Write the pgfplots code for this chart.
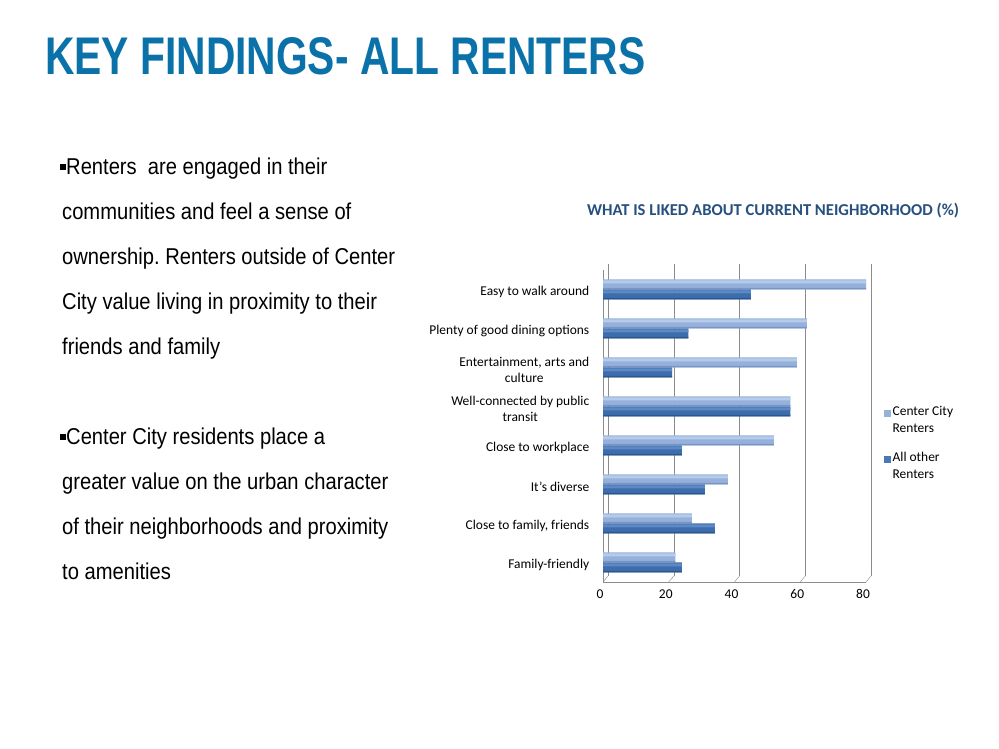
\documentclass[border=0pt]{standalone}
\usepackage{fontspec}
\setmainfont{Carlito}
\newfontfamily\condfont[FakeStretch=0.88]{Liberation Sans}
\usepackage{graphicx}
\usepackage{pgfplots}
\pgfplotsset{compat=1.18}
\usepackage{pgfplotstable}
\frenchspacing
\definecolor{titleblue}{HTML}{0A72A8}
\definecolor{charttitle}{HTML}{28507F}
\definecolor{lfill}{HTML}{95B1DB}
\definecolor{lhi}{HTML}{B6CBEA}
\definecolor{ledge}{HTML}{7794C4}
\definecolor{dfill}{HTML}{3E6DAD}
\definecolor{dhi}{HTML}{5D89C5}
\definecolor{dedge}{HTML}{2C568E}
\definecolor{lleg}{HTML}{95B3D7}
\definecolor{dleg}{HTML}{4A78B4}
\definecolor{gridgray}{HTML}{8C8C8C}

\pgfplotstableread{
y cc other
0 22 24
1 27 34
2 38 31
3 52 24
4 57 57
5 59 21
6 62 26
7 80 45
}\datatable

\begin{document}
\begin{tikzpicture}[x=1bp,y=1bp]
\fill[white] (0,0) rectangle (999,749);
\useasboundingbox (0,0) rectangle (999,749);
% slide title
\node[anchor=south west, inner sep=0, text=titleblue] at (45,674)
  {\resizebox{600bp}{37bp}{\condfont\bfseries KEY FINDINGS- ALL RENTERS}};
% bullet text
\begin{scope}[every node/.style={anchor=base west, inner sep=0, font=\condfont\fontsize{23}{27}\selectfont}]
\node at (60,749-175) {\raisebox{4.5bp}{\rule{6bp}{6bp}}Renters\ \ are engaged in their};
\node at (62,749-220) {communities and feel a sense of};
\node at (62,749-265) {ownership. Renters outside of Center};
\node at (62,749-310) {City value living in proximity to their};
\node at (62,749-355) {friends and family};
\node at (60,749-445) {\raisebox{4.5bp}{\rule{6bp}{6bp}}Center City residents place a};
\node at (62,749-490) {greater value on the urban character};
\node at (62,749-535) {of their neighborhoods and proximity};
\node at (62,749-580) {to amenities};
\end{scope}
% chart title
\node[inner sep=0, text=charttitle] at (773,749-211)
  {\resizebox{372bp}{!}{\bfseries WHAT IS LIKED ABOUT CURRENT NEIGHBORHOOD (\%)}};

\begin{axis}[
  at={(603bp,167bp)}, anchor=south west,
  scale only axis, width=263bp, height=312bp,
  xmin=0, xmax=80, ymin=-0.5, ymax=7.5,
  xbar, bar width=10bp,
  axis x line*=bottom, axis y line*=left,
  axis line style={gridgray},
  xtick={0,20,40,60,80},
  xmajorgrids, grid style={gridgray, shift={(5bp,6bp)}},
  xtick style={draw=none},
  ytick={0,...,7},
  ytick style={draw=none},
  minor ytick={-0.5,0.5,...,7.5},
  minor y tick style={gridgray},
  minor tick length=4bp, tick align=outside,
  /pgf/number format/assume math mode=true,
  yticklabels={Family-friendly, {Close to family, friends}, It’s diverse, Close to workplace,
    {Well-connected by public\\transit}, {Entertainment, arts and\\culture},
    Plenty of good dining options, Easy to walk around},
  yticklabel style={align=center, font=\fontsize{13.5}{16}\selectfont, xshift=-6bp, yshift=-2bp},
  xticklabel style={font=\fontsize{13.5}{15}\selectfont, xshift=-3bp},
  legend style={draw=none, fill=none, at={(1.055,0.445)}, anchor=west,
    font=\fontsize{13.5}{17}\selectfont, cells={align=left, xshift=2bp}, row sep=14bp},
  legend cell align=left,
  clip=false,
]
\addplot[draw=none, fill=lfill, bar shift=5bp,
  legend image code/.code={\fill[lleg] (0bp,3bp) rectangle (7bp,10bp);}]
  table[x=cc, y=y] {\datatable};
\addlegendentry{Center City\\Renters}
\addplot[draw=none, fill=dfill, bar shift=-5bp,
  legend image code/.code={\fill[dleg] (0bp,3bp) rectangle (7bp,10bp);}]
  table[x=other, y=y] {\datatable};
\addlegendentry{All other\\Renters}
% cylinder highlights and shadows
\addplot[forget plot, draw=none, fill=lhi, bar width=3bp, bar shift=7.5bp]
  table[x=cc, y=y] {\datatable};
\addplot[forget plot, draw=none, fill=ledge, bar width=1.5bp, bar shift=0.75bp]
  table[x=cc, y=y] {\datatable};
\addplot[forget plot, draw=none, fill=dhi, bar width=3bp, bar shift=-2.5bp]
  table[x=other, y=y] {\datatable};
\addplot[forget plot, draw=none, fill=dedge, bar width=1.5bp, bar shift=-9.25bp]
  table[x=other, y=y] {\datatable};
\pgfplotsinvokeforeach{0,20,40,60,80}{
  \draw[gridgray] (axis cs:#1,-0.5) -- ++(5bp,6bp);
}
\end{axis}
\end{tikzpicture}
\end{document}
